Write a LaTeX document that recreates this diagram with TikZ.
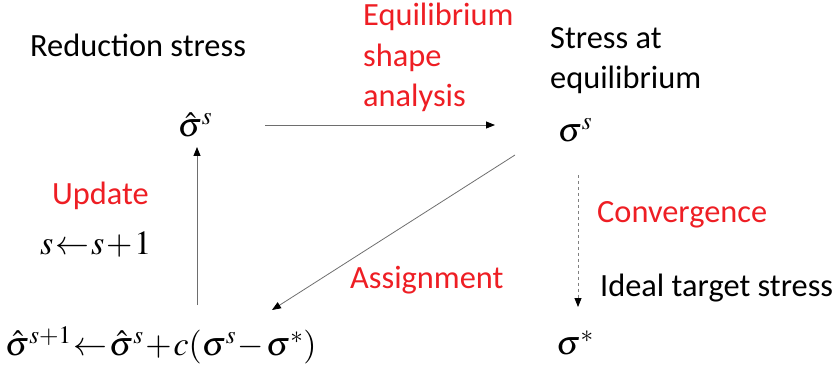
\documentclass[tikz,border=0pt]{standalone}
\usepackage{mathptmx}
\usepackage{fontspec}
\setmainfont{Carlito}
\usetikzlibrary{arrows.meta}
\definecolor{myred}{RGB}{238,30,36}
\definecolor{lgray}{RGB}{110,110,110}
\newcommand{\tightmath}{\medmuskip=1mu plus 1mu\thickmuskip=1mu plus 1mu\relax}
\tikzset{
  lbl/.style={font=\fontsize{32.5}{40}\selectfont, inner sep=0pt},
  rlbl/.style={lbl, text=myred},
  mth/.style={font=\fontsize{34}{40}\selectfont, inner sep=0pt},
  conn/.style={draw=lgray, line width=0.8pt, -{Triangle[length=9pt,width=7pt,color=black]}},
}
\begin{document}
\begin{tikzpicture}[x=1bp,y=-1bp]
\useasboundingbox (0,0) rectangle (838,370);
\node[lbl, anchor=west] (red) at (30,45) {Reduction stress};
\node[rlbl, anchor=north west, align=left, font=\fontsize{32.5}{40.5}\selectfont] (eq) at (363,3) {Equilibrium\\shape\\analysis};
\node[lbl, anchor=north west, align=left, font=\fontsize{32.5}{40.5}\selectfont] (sae) at (550,27) {Stress at\\equilibrium};
\node[mth] (sh) at (195,125) {$\hat\sigma^s$};
\node[mth] (s) at (575,130) {$\sigma^s$};
\node[rlbl, anchor=west] (upd) at (52,196) {Update};
\node[mth, anchor=west] (ss) at (40,245) {\tightmath$s\leftarrow s+1$};
\node[rlbl, anchor=west] (conv) at (597,215) {Convergence};
\node[rlbl, anchor=west] (asg) at (350,280) {Assignment};
\node[lbl, anchor=west] (ideal) at (600,288) {Ideal target stress};
\node[mth, anchor=west] (form) at (5,345) {\tightmath$\hat\sigma^{s+1}\leftarrow\hat\sigma^s+c(\sigma^s-\sigma^*)$};
\node[mth] (st) at (575,343) {$\sigma^*$};
\coordinate (h1) at (265,125);
\coordinate (h2) at (495,125);
\coordinate (d1) at (515,155);
\coordinate (d2) at (272,310);
\coordinate (v1) at (578,175);
\coordinate (v2) at (578,307);
\coordinate (u1) at (197,305);
\coordinate (u2) at (197,147);
\draw[conn] (h1) -- (h2);
\draw[conn] (d1) -- (d2);
\draw[conn, dashed, draw=gray] (v1) -- (v2);
\draw[conn] (u1) -- (u2);
\end{tikzpicture}
\end{document}
